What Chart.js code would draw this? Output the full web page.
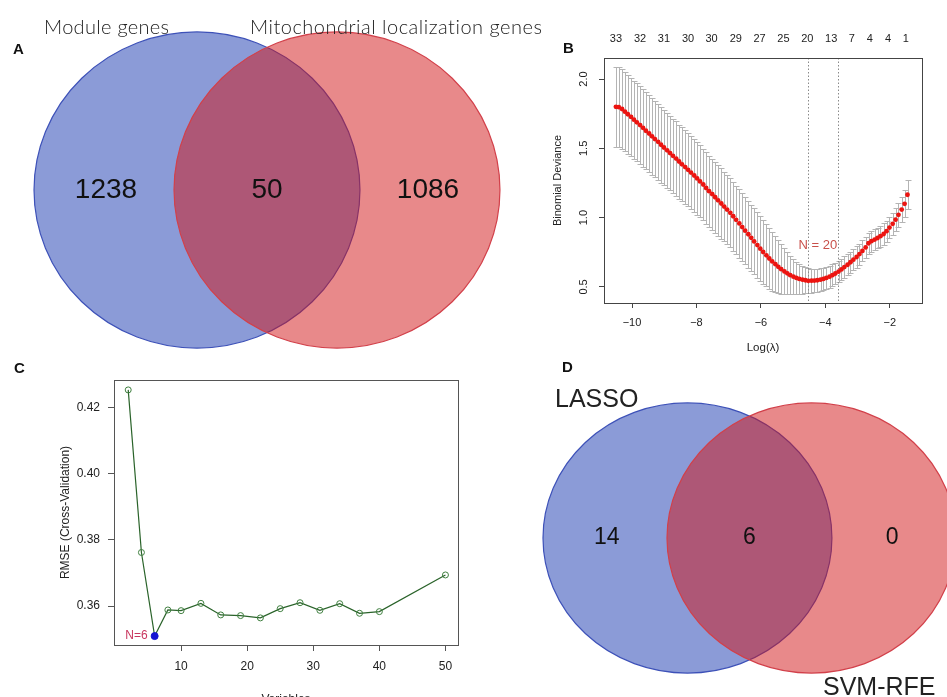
<!DOCTYPE html>
<html lang="en">
  <head>
    <meta charset="UTF-8" />
    <title>Feature selection</title>
    <script src="https://cdn.jsdelivr.net/npm/chart.js"></script>
    <style>
      body {
        margin: 0;
        background: #fff;
        font-family: "Liberation Sans", Arial, sans-serif;
      }
      .page {
        position: relative;
        width: 947px;
        height: 697px;
        overflow: hidden;
      }
      canvas {
        position: absolute;
      }
      .tag {
        position: absolute;
        font-weight: bold;
        font-size: 15px;
        line-height: 1;
        color: #111;
      }
      .set-label {
        position: absolute;
        white-space: nowrap;
        line-height: 1;
        color: #222;
      }
    </style>
  </head>
  <body>
    <div class="page" id="page">
      <canvas id="vennA" width="540" height="360" style="left: 0; top: 0"></canvas>
      <canvas id="lassoChart" width="407" height="360" style="left: 540px; top: 0"></canvas>
      <canvas id="rfeChart" width="480" height="350" style="left: 0; top: 360px"></canvas>
      <canvas id="vennD" width="467" height="337" style="left: 480px; top: 360px"></canvas>
      <div class="tag" style="left: 13px; top: 41px">A</div>
      <div class="tag" style="left: 563px; top: 40px">B</div>
      <div class="tag" style="left: 14px; top: 360px">C</div>
      <div class="tag" style="left: 562px; top: 359px">D</div>
    </div>

    <script>
      // ---- panel A: venn of gene sets
      const vennASets = ["Module genes", "Mitochondrial localization genes"];
      const vennACounts = [1238, 50, 1086];

      // ---- panel B: LASSO cross-validation
      const logLambda = [
        -10.5, -10.41, -10.31, -10.22, -10.13, -10.03, -9.94, -9.85, -9.75, -9.66,
        -9.57, -9.47, -9.38, -9.29, -9.19, -9.1, -9.01, -8.91, -8.82, -8.73,
        -8.63, -8.54, -8.45, -8.35, -8.26, -8.17, -8.07, -7.98, -7.89, -7.79,
        -7.7, -7.61, -7.51, -7.42, -7.33, -7.23, -7.14, -7.05, -6.95, -6.86,
        -6.77, -6.67, -6.58, -6.49, -6.39, -6.3, -6.21, -6.11, -6.02, -5.93,
        -5.83, -5.74, -5.65, -5.55, -5.46, -5.37, -5.27, -5.18, -5.09, -4.99,
        -4.9, -4.81, -4.71, -4.62, -4.53, -4.43, -4.34, -4.25, -4.15, -4.06,
        -3.97, -3.87, -3.78, -3.69, -3.59, -3.5, -3.41, -3.31, -3.22, -3.13,
        -3.03, -2.94, -2.85, -2.75, -2.66, -2.57, -2.47, -2.38, -2.29, -2.19,
        -2.1, -2.01, -1.91, -1.82, -1.73, -1.63, -1.54, -1.45,
      ];
      const cvMean = [
        1.8, 1.797, 1.784, 1.765, 1.746, 1.727, 1.707, 1.688, 1.668, 1.648,
        1.627, 1.607, 1.587, 1.567, 1.547, 1.526, 1.506, 1.486, 1.466, 1.446,
        1.426, 1.405, 1.385, 1.365, 1.345, 1.325, 1.304, 1.283, 1.261, 1.239,
        1.214, 1.191, 1.169, 1.147, 1.125, 1.102, 1.08, 1.058, 1.035, 1.01,
        0.984, 0.958, 0.932, 0.906, 0.88, 0.854, 0.828, 0.802, 0.776, 0.752,
        0.728, 0.705, 0.684, 0.664, 0.645, 0.628, 0.612, 0.598, 0.585, 0.574,
        0.565, 0.558, 0.552, 0.548, 0.544, 0.545, 0.546, 0.548, 0.552, 0.558,
        0.565, 0.574, 0.585, 0.597, 0.611, 0.626, 0.643, 0.66, 0.678, 0.697,
        0.716, 0.737, 0.76, 0.785, 0.815, 0.83, 0.842, 0.853, 0.866, 0.882,
        0.902, 0.928, 0.955, 0.985, 1.02, 1.058, 1.1, 1.165,
      ];
      const cvSe = [
        0.288, 0.287, 0.286, 0.285, 0.284, 0.283, 0.282, 0.281, 0.28, 0.279,
        0.278, 0.277, 0.276, 0.275, 0.274, 0.273, 0.272, 0.271, 0.27, 0.269,
        0.268, 0.267, 0.266, 0.265, 0.264, 0.263, 0.262, 0.261, 0.26, 0.259,
        0.258, 0.257, 0.256, 0.255, 0.254, 0.253, 0.252, 0.251, 0.25, 0.249,
        0.247, 0.246, 0.244, 0.243, 0.241, 0.24, 0.238, 0.236, 0.233, 0.228,
        0.224, 0.219, 0.212, 0.203, 0.192, 0.18, 0.166, 0.152, 0.139, 0.127,
        0.117, 0.108, 0.1, 0.094, 0.089, 0.086, 0.084, 0.083, 0.082, 0.081,
        0.08, 0.08, 0.079, 0.079, 0.078, 0.078, 0.078, 0.077, 0.077, 0.077,
        0.077, 0.076, 0.076, 0.075, 0.075, 0.075, 0.075, 0.075, 0.075, 0.076,
        0.076, 0.077, 0.08, 0.084, 0.088, 0.093, 0.099, 0.105,
      ];
      const nzLambda = [-10.5, -9.75, -9.01, -8.26, -7.53, -6.78, -6.04, -5.3, -4.56, -3.82, -3.18, -2.62, -2.05, -1.5];
      const nzCounts = ["33", "32", "31", "30", "30", "29", "27", "25", "20", "13", "7", "4", "4", "1"];
      const lambdaLines = [-4.55, -3.62];
      const xTicksB = [-10, -8, -6, -4, -2];
      const yTicksB = [0.5, 1.0, 1.5, 2.0];

      // ---- panel C: SVM-RFE
      const rfeVars = [2, 4, 6, 8, 10, 13, 16, 19, 22, 25, 28, 31, 34, 37, 40, 50];
      const rfeRmse = [0.4254, 0.3762, 0.3509, 0.3588, 0.3586, 0.3608, 0.3573, 0.3571, 0.3564, 0.3592, 0.361, 0.3587, 0.3607, 0.3578, 0.3583, 0.3694];
      const bestN = 6;
      const xTicksC = [10, 20, 30, 40, 50];
      const yTicksC = [0.36, 0.38, 0.4, 0.42];

      // ---- panel D: venn of selected genes
      const vennDSets = ["LASSO", "SVM-RFE"];
      const vennDCounts = [14, 6, 0];

      const rFont = '"Liberation Sans", Arial, sans-serif';
      Chart.defaults.font.family = rFont;
      Chart.defaults.color = "#222";
      Chart.defaults.animation = false;
      Chart.defaults.plugins.legend.display = false;
      Chart.defaults.plugins.tooltip.enabled = false;

      const minus = (v) => (v < 0 ? "\u2212" + Math.abs(v) : String(v));

      // box round the plot area, like R's box()
      const boxPlugin = {
        id: "box",
        afterDatasetsDraw(chart, args, opts) {
          const { ctx, chartArea: a } = chart;
          const l = Math.round(a.left), t = Math.round(a.top);
          ctx.save();
          ctx.strokeStyle = opts.color || "#444";
          ctx.lineWidth = 1;
          ctx.strokeRect(l + 0.5, t + 0.5, Math.round(a.right) - l, Math.round(a.bottom) - t);
          ctx.restore();
        },
      };

      const errorBarPlugin = {
        id: "errorBars",
        beforeDatasetsDraw(chart, args, opts) {
          const { ctx, scales } = chart;
          const ds = chart.data.datasets[0];
          ctx.save();
          ctx.strokeStyle = opts.color;
          ctx.lineWidth = 1;
          ds.data.forEach((p, i) => {
            const px = Math.round(scales.x.getPixelForValue(p.x)) + 0.5;
            const hi = Math.round(scales.y.getPixelForValue(p.y + ds.se[i])) + 0.5;
            const lo = Math.round(scales.y.getPixelForValue(p.y - ds.se[i])) + 0.5;
            ctx.beginPath();
            ctx.moveTo(px, hi);
            ctx.lineTo(px, lo);
            ctx.moveTo(px - opts.cap, hi);
            ctx.lineTo(px + opts.cap, hi);
            ctx.moveTo(px - opts.cap, lo);
            ctx.lineTo(px + opts.cap, lo);
            ctx.stroke();
          });
          ctx.restore();
        },
      };

      const vlinePlugin = {
        id: "vlines",
        beforeDatasetsDraw(chart, args, opts) {
          const { ctx, chartArea: a, scales } = chart;
          ctx.save();
          ctx.strokeStyle = opts.color;
          ctx.lineWidth = 1;
          ctx.setLineDash([1.5, 2]);
          opts.values.forEach((v) => {
            const px = Math.round(scales.x.getPixelForValue(v)) + 0.5;
            ctx.beginPath();
            ctx.moveTo(px, a.top);
            ctx.lineTo(px, a.bottom);
            ctx.stroke();
          });
          ctx.restore();
        },
      };

      // R-style y tick labels, turned 90 degrees
      const rotatedYLabels = {
        id: "rotY",
        afterDraw(chart, args, opts) {
          const { ctx, chartArea: a, scales } = chart;
          ctx.save();
          ctx.fillStyle = "#222";
          ctx.font = opts.font;
          ctx.textAlign = "center";
          ctx.textBaseline = "middle";
          opts.ticks.forEach((v) => {
            ctx.save();
            ctx.translate(a.left - opts.offset, scales.y.getPixelForValue(v));
            ctx.rotate(-Math.PI / 2);
            ctx.fillText(v.toFixed(1), 0, 0);
            ctx.restore();
          });
          ctx.restore();
        },
      };

      const notePlugin = {
        id: "note",
        afterDatasetsDraw(chart, args, opts) {
          const { ctx, scales } = chart;
          ctx.save();
          ctx.fillStyle = opts.color;
          ctx.font = opts.font;
          ctx.textAlign = opts.align;
          ctx.textBaseline = "middle";
          ctx.fillText(opts.text, scales.x.getPixelForValue(opts.x) + opts.dx, scales.y.getPixelForValue(opts.y));
          ctx.restore();
        },
      };

      const vennPlugin = {
        id: "venn",
        beforeDatasetsDraw(chart, args, opts) {
          const { ctx, scales } = chart;
          const { x, y } = scales;
          opts.circles.forEach((c) => {
            const cx = x.getPixelForValue(c.cx);
            const cy = y.getPixelForValue(0);
            const rx = Math.abs(x.getPixelForValue(c.cx + c.rx) - cx);
            const ry = Math.abs(y.getPixelForValue(c.ry) - cy);
            ctx.save();
            ctx.beginPath();
            ctx.ellipse(cx, cy, rx, ry, 0, 0, Math.PI * 2);
            ctx.fillStyle = c.fill;
            ctx.fill();
            ctx.lineWidth = 1.2;
            ctx.strokeStyle = c.stroke;
            ctx.stroke();
            ctx.restore();
          });
        },
        afterDatasetsDraw(chart, args, opts) {
          const { ctx } = chart;
          const meta = chart.getDatasetMeta(0);
          const counts = chart.data.datasets[0].counts;
          ctx.save();
          ctx.fillStyle = "#111";
          ctx.font = opts.font;
          ctx.textAlign = "center";
          ctx.textBaseline = "middle";
          meta.data.forEach((pt, i) => ctx.fillText(String(counts[i]), pt.x, pt.y));
          ctx.restore();
        },
      };

      const blueFill = "rgba(23, 55, 175, 0.5)";
      const redFill = "rgba(209, 19, 21, 0.5)";

      const makeVenn = (id, counts, spread, xr, yr, rx, ry, font) =>
        new Chart(document.getElementById(id), {
          type: "scatter",
          data: {
            datasets: [
              {
                data: counts.map((c, i) => ({ x: (i - 1) * spread, y: 0 })),
                counts: counts,
                pointRadius: 0,
              },
            ],
          },
          options: {
            responsive: false,
            layout: { padding: 0 },
            scales: {
              x: { type: "linear", display: false, min: xr[0], max: xr[1] },
              y: { type: "linear", display: false, min: yr[0], max: yr[1] },
            },
            plugins: {
              venn: {
                font: font,
                circles: [
                  { cx: -0.5, rx: rx, ry: ry, fill: blueFill, stroke: "#3d51b8" },
                  { cx: 0.5, rx: rx, ry: ry, fill: redFill, stroke: "#d2404a" },
                ],
              },
            },
          },
          plugins: [vennPlugin],
        });

      makeVenn("vennA", vennACounts, 1.15, [-1.907, 1.95], [-1.214, 1.357], 1.164, 1.129, "28px " + rFont);
      makeVenn("vennD", vennDCounts, 1.15, [-2.173, 1.593], [-1.282, 1.435], 1.165, 1.089, "23px " + rFont);

      // set names as page text
      const page = document.getElementById("page");
      const addLabel = (text, left, top, font, spacing) => {
        const el = document.createElement("div");
        el.className = "set-label";
        el.textContent = text;
        el.style.left = left + "px";
        el.style.top = top + "px";
        el.style.font = font;
        el.style.letterSpacing = spacing + "px";
        page.appendChild(el);
      };
      addLabel(vennASets[0], 44, 14, "300 20px Lato, sans-serif", 0.3);
      addLabel(vennASets[1], 250, 14, "300 20px Lato, sans-serif", 0.5);
      addLabel(vennDSets[0], 555, 384, "25px " + rFont, 0);
      addLabel(vennDSets[1], 823, 672, "25px " + rFont, 0);

      const tickGrid = (color, len) => ({
        display: true,
        drawOnChartArea: false,
        drawTicks: true,
        tickLength: len,
        color: color,
      });

      new Chart(document.getElementById("lassoChart"), {
        type: "scatter",
        data: {
          datasets: [
            {
              data: logLambda.map((v, i) => ({ x: v, y: cvMean[i] })),
              se: cvSe,
              pointRadius: 2.4,
              pointBorderWidth: 0,
              pointBackgroundColor: "#ec1410",
              showLine: false,
            },
          ],
        },
        options: {
          responsive: false,
          layout: { padding: { right: 25 } },
          scales: {
            x: {
              type: "linear",
              position: "bottom",
              min: -10.87,
              max: -1.0,
              afterBuildTicks: (s) => {
                s.ticks = xTicksB.map((v) => ({ value: v }));
              },
              afterFit: (s) => {
                s.height = 57;
              },
              grid: tickGrid("#444", 5),
              border: { display: false },
              ticks: { font: { size: 11 }, padding: 8, maxRotation: 0, callback: (v) => minus(v) },
              title: { display: true, text: "Log(\u03bb)", font: { size: 11.5 }, padding: { top: 0, bottom: 5 } },
            },
            top: {
              type: "linear",
              position: "top",
              min: -10.87,
              max: -1.0,
              afterBuildTicks: (s) => {
                s.ticks = nzLambda.map((v) => ({ value: v }));
              },
              afterFit: (s) => {
                s.height = 58;
              },
              grid: { display: false, drawTicks: false },
              border: { display: false },
              ticks: { font: { size: 11 }, padding: 12, autoSkip: false, maxRotation: 0, callback: (v, i) => nzCounts[i] },
            },
            y: {
              type: "linear",
              min: 0.384,
              max: 2.152,
              afterBuildTicks: (s) => {
                s.ticks = yTicksB.map((v) => ({ value: v }));
              },
              afterFit: (s) => {
                s.width = 64;
              },
              grid: tickGrid("#444", 5),
              border: { display: false },
              ticks: { display: false },
              title: { display: true, text: "Binomial Deviance", font: { size: 11 }, padding: { top: 11 } },
            },
          },
          plugins: {
            box: { color: "#444" },
            errorBars: { color: "#b4b4b4", cap: 3 },
            vlines: { values: lambdaLines, color: "#8a8a8a" },
            rotY: { ticks: yTicksB, offset: 20, font: "11px " + rFont },
            note: { text: "N = 20", x: -4.23, y: 0.797, dx: 0, align: "center", color: "#c8504a", font: "13px " + rFont },
          },
        },
        plugins: [boxPlugin, errorBarPlugin, vlinePlugin, rotatedYLabels, notePlugin],
      });

      const bestIdx = rfeVars.indexOf(bestN);

      new Chart(document.getElementById("rfeChart"), {
        type: "line",
        data: {
          datasets: [
            {
              data: rfeVars.map((v, i) => ({ x: v, y: rfeRmse[i] })),
              borderColor: "#2a632a",
              borderWidth: 1.2,
              tension: 0,
              pointRadius: rfeVars.map((v, i) => (i === bestIdx ? 3.5 : 3)),
              pointBorderWidth: 1,
              pointBorderColor: rfeVars.map((v, i) => (i === bestIdx ? "#1414d2" : "#3f7f3f")),
              pointBackgroundColor: rfeVars.map((v, i) => (i === bestIdx ? "#1414d2" : "rgba(0,0,0,0)")),
            },
          ],
        },
        options: {
          responsive: false,
          layout: { padding: { top: 20, right: 22 } },
          scales: {
            x: {
              type: "linear",
              min: -0.15,
              max: 51.9,
              afterBuildTicks: (s) => {
                s.ticks = xTicksC.map((v) => ({ value: v }));
              },
              afterFit: (s) => {
                s.height = 65;
              },
              grid: tickGrid("#555", 6),
              border: { display: false },
              ticks: { font: { size: 12 }, padding: 8, maxRotation: 0 },
              title: { display: true, text: "Variables", font: { size: 12 }, padding: { top: 0, bottom: 3 } },
            },
            y: {
              type: "linear",
              min: 0.3482,
              max: 0.4284,
              afterBuildTicks: (s) => {
                s.ticks = yTicksC.map((v) => ({ value: v }));
              },
              afterFit: (s) => {
                s.width = 114;
              },
              grid: tickGrid("#555", 6),
              border: { display: false },
              ticks: { font: { size: 12 }, padding: 8, callback: (v) => v.toFixed(2) },
              title: { display: true, text: "RMSE (Cross-Validation)", font: { size: 12 }, padding: { top: 58 } },
            },
          },
          plugins: {
            box: { color: "#555" },
            note: {
              text: "N=" + bestN,
              x: bestN,
              y: rfeRmse[bestIdx],
              dx: -7,
              align: "right",
              color: "#c8365e",
              font: "12px " + rFont,
            },
          },
        },
        plugins: [boxPlugin, notePlugin],
      });
    </script>
  </body>
</html>
